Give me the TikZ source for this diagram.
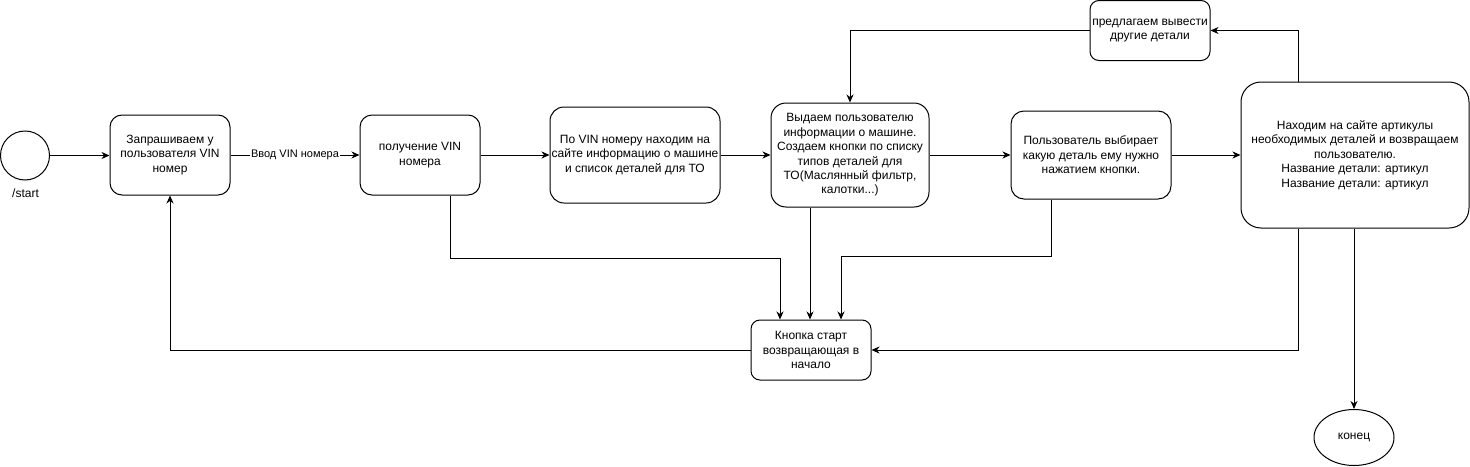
\documentclass[tikz,border=0pt]{standalone}
\usepackage{fontspec}
\setmainfont{Liberation Sans}
\usetikzlibrary{arrows.meta,shapes.geometric}
\begin{document}
\begin{tikzpicture}[x=1pt,y=-1pt,
  txt/.style={font=\fontsize{12}{14.4}\selectfont},
  box/.style={draw, line width=1pt, rectangle, align=center, inner sep=0pt, txt},
  arr/.style={line width=1pt, -{Stealth[length=8pt,width=7pt,inset=2.5pt]}}]
\useasboundingbox (0,0) rectangle (1470,466);
% nodes
\node[circle, draw, line width=1pt, minimum size=49pt, inner sep=0pt] (st) at (25,155.5) {};
\node[txt, inner sep=0pt] (stl) at (25.5,193) {/start};
\node[box, minimum width=120pt, minimum height=80pt, rounded corners=12pt] (b1) at (170,155) {Запрашиваем у\\пользователя VIN\\номер};
\node[box, minimum width=120pt, minimum height=80pt, rounded corners=12pt] (b2) at (420,155) {получение VIN\\номера};
\node[box, minimum width=170pt, minimum height=96pt, rounded corners=14pt] (b3) at (635,155) {По VIN номеру находим на\\сайте информацию о машине\\и список деталей для ТО};
\node[box, minimum width=158pt, minimum height=104pt, rounded corners=15pt] (b4) at (850,155) {Выдаем пользователю\\информации о машине.\\Создаем кнопки по списку\\типов деталей для\\ТО(Маслянный фильтр,\\калотки...)};
\node[box, minimum width=160pt, minimum height=88pt, rounded corners=13pt] (b5) at (1091,155) {Пользователь выбирает\\какую деталь ему нужно\\нажатием кнопки.};
\node[box, minimum width=228pt, minimum height=146pt, rounded corners=20pt] (b6) at (1355,155) {Находим на сайте артикулы\\необходимых деталей и возвращаем\\пользователю.\\Название детали: артикул\\Название детали: артикул};
\node[box, minimum width=120pt, minimum height=60pt, rounded corners=9pt] (b7) at (1150,30.5) {предлагаем вывести\\другие детали};
\node[box, minimum width=120pt, minimum height=60pt, rounded corners=9pt] (b8) at (811,350) {Кнопка старт\\возвращающая в\\начало};
\node[ellipse, draw, line width=1pt, minimum width=80pt, minimum height=56pt, inner sep=0pt, txt] (end) at (1354,437.5) {конец};
% connectors
\draw[arr] (st.east) -- (st.east -| b1.west);
\draw[arr] (b1) -- node[fill=white, inner sep=1pt, font=\fontsize{11}{13}\selectfont] (lbl) {Ввод VIN номера} (b2);
\draw[arr] (b2) -- (b3);
\draw[arr] (b3) -- (b4);
\draw[arr] (b4) -- (b5);
\draw[arr] (b5) -- (b6);
\draw[arr] ([xshift=30pt]b2.south) -- ++(0,63) -| ([xshift=-31pt]b8.north);
\draw[arr] ([xshift=-40pt]b4.south) -- ([xshift=-40pt]b4.south |- b8.north);
\draw[arr] ([xshift=-40pt]b5.south) -- ++(0,57) -| ([xshift=30pt]b8.north);
\draw[arr] ([xshift=-57pt]b6.south) |- (b8.east);
\draw[arr] (b8.west) -| (b1.south);
\draw[arr] (b6.south -| end.north) -- (end.north);
\draw[arr] ([xshift=-57pt]b6.north) |- (b7.east);
\draw[arr] (b7.west) -| (b4.north);
\end{tikzpicture}
\end{document}
